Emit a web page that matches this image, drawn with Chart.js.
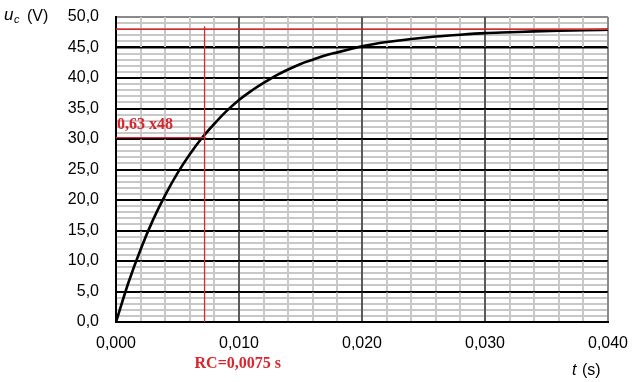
<!DOCTYPE html>
<html><head><meta charset="utf-8">
<script src="https://cdn.jsdelivr.net/npm/chart.js@4"></script>
<style>html,body{margin:0;padding:0;background:#fff}canvas{display:block}</style>
</head><body>
<canvas id="c" width="639" height="382"></canvas>
<script>
// Time (s) and capacitor voltage (V)
const timeS = [0, 0.001, 0.002, 0.003, 0.004, 0.005, 0.006, 0.007, 0.008, 0.009, 0.010,
  0.011, 0.012, 0.013, 0.014, 0.015, 0.016, 0.017, 0.018, 0.019, 0.020,
  0.022, 0.024, 0.026, 0.028, 0.030, 0.032, 0.034, 0.036, 0.038, 0.040];
const voltageV = [0, 6.4, 11.9, 16.7, 20.8, 24.4, 27.5, 30.2, 32.5, 34.6, 36.4,
  37.9, 39.2, 40.4, 41.4, 42.3, 43.0, 43.7, 44.2, 44.7, 45.2,
  45.9, 46.4, 46.8, 47.1, 47.35, 47.5, 47.65, 47.75, 47.82, 47.9];
// Reference marks
const supplyV = 48;            // final voltage line
const level63 = 30.24;         // 0,63 x 48
const rcMarkT = 0.0072;        // vertical RC marker position (as drawn)
const rcMarkTop = 48.5;
const hLineEndT = 0.0073;
const levelLabel = '0,63 x48';
const rcLabel = 'RC=0,0075 s';
const xTitle = ['t', '(s)'];
const yTitle = ['u', 'c', '(V)'];

const RED = '#d8262c';
const fmt = (v, d) => v.toFixed(d).replace('.', ',');
const isMult = (v, m) => Math.abs(v / m - Math.round(v / m)) < 1e-6;
const SANS = "'Liberation Sans', Arial, sans-serif";

const textPlugin = {
  id: 'texts',
  afterDraw(chart) {
    const {ctx, scales: {x, y}} = chart;
    ctx.save();
    ctx.textAlign = 'left';
    ctx.textBaseline = 'alphabetic';
    ctx.fillStyle = RED;
    ctx.font = "bold 16px 'Liberation Serif', 'Times New Roman', serif";
    ctx.fillText(levelLabel, x.left + 1, y.getPixelForValue(level63) - 9);
    ctx.fillText(rcLabel, x.getPixelForValue(rcMarkT) - 10, y.bottom + 46);
    ctx.fillStyle = '#000';
    // y title
    ctx.font = "italic 17px " + SANS;
    ctx.fillText(yTitle[0], 4, 20);
    ctx.font = "italic 11px " + SANS;
    ctx.fillText(yTitle[1], 14, 23);
    ctx.font = "16px " + SANS;
    ctx.fillText(yTitle[2], 27, 21);
    // x title
    const tx = x.right - 36;
    ctx.font = "italic 16px " + SANS;
    ctx.fillText(xTitle[0], tx, 375);
    ctx.font = "16px " + SANS;
    ctx.fillText(xTitle[1], tx + 10, 375);
    ctx.restore();
  }
};

new Chart(document.getElementById('c'), {
  type: 'line',
  data: {
    datasets: [
      { data: [{x: 0, y: supplyV}, {x: 0.04, y: supplyV}], borderColor: RED, borderWidth: 1.5, pointRadius: 0 },
      { data: [{x: rcMarkT, y: 0}, {x: rcMarkT, y: rcMarkTop}], borderColor: RED, borderWidth: 1.3, pointRadius: 0 },
      { data: [{x: 0, y: level63}, {x: hLineEndT, y: level63}], borderColor: RED, borderWidth: 1.3, pointRadius: 0 },
      { data: timeS.map((t, i) => ({x: t, y: voltageV[i]})), borderColor: '#000', borderWidth: 2.6,
        pointRadius: 0, cubicInterpolationMode: 'monotone' }
    ]
  },
  options: {
    responsive: false,
    devicePixelRatio: 1,
    animation: false,
    parsing: false,
    layout: { padding: { left: 0, right: 31, top: 17, bottom: 0 } },
    plugins: { legend: { display: false }, tooltip: { enabled: false } },
    scales: {
      x: {
        type: 'linear', min: 0, max: 0.04,
        afterFit(s) { s.height = 60; s.paddingLeft = 0; s.paddingRight = 0; },
        border: { color: '#000', width: 2, z: 0 },
        grid: {
          z: -2,
          drawTicks: false,
          color: c => { const v = c.tick.value; if (v > 0.039) return '#8a8a8a'; if (v === 0) return '#000'; return isMult(v, 0.01) ? '#5a5a5a' : '#c8c8c8'; },
          lineWidth: 2
        },
        ticks: {
          stepSize: 0.002, autoSkip: false, maxRotation: 0, maxTicksLimit: 200, padding: 12,
          color: '#000', font: { family: SANS, size: 16 },
          callback: v => isMult(v, 0.01) ? fmt(v, 3) : ''
        }
      },
      y: {
        type: 'linear', min: 0, max: 50,
        afterFit(s) { s.width = 116; s.paddingTop = 0; s.paddingBottom = 0; },
        border: { color: '#000', width: 2, z: 0 },
        grid: {
          z: -3,
          drawTicks: false,
          color: c => { const v = c.tick.value; if (v === 50) return '#8a8a8a'; return isMult(v, 5) ? '#000' : '#c8c8c8'; },
          lineWidth: 2
        },
        ticks: {
          stepSize: 1, autoSkip: false, maxTicksLimit: 200, padding: 17,
          color: '#000', font: { family: SANS, size: 16 },
          callback: v => isMult(v, 5) ? fmt(v, 1) : ''
        }
      },
      yMajor: {
        type: 'linear', min: 0, max: 50, position: 'left',
        afterFit(s) { s.width = 0; s.paddingTop = 0; s.paddingBottom = 0; },
        border: { display: false },
        grid: {
          z: -1,
          drawTicks: false,
          color: c => { const v = c.tick.value; return (v > 0 && v < 50) ? '#000' : 'rgba(0,0,0,0)'; },
          lineWidth: 1.6
        },
        ticks: { stepSize: 5, display: false }
      }
    }
  },
  plugins: [textPlugin]
});
</script>
</body></html>
